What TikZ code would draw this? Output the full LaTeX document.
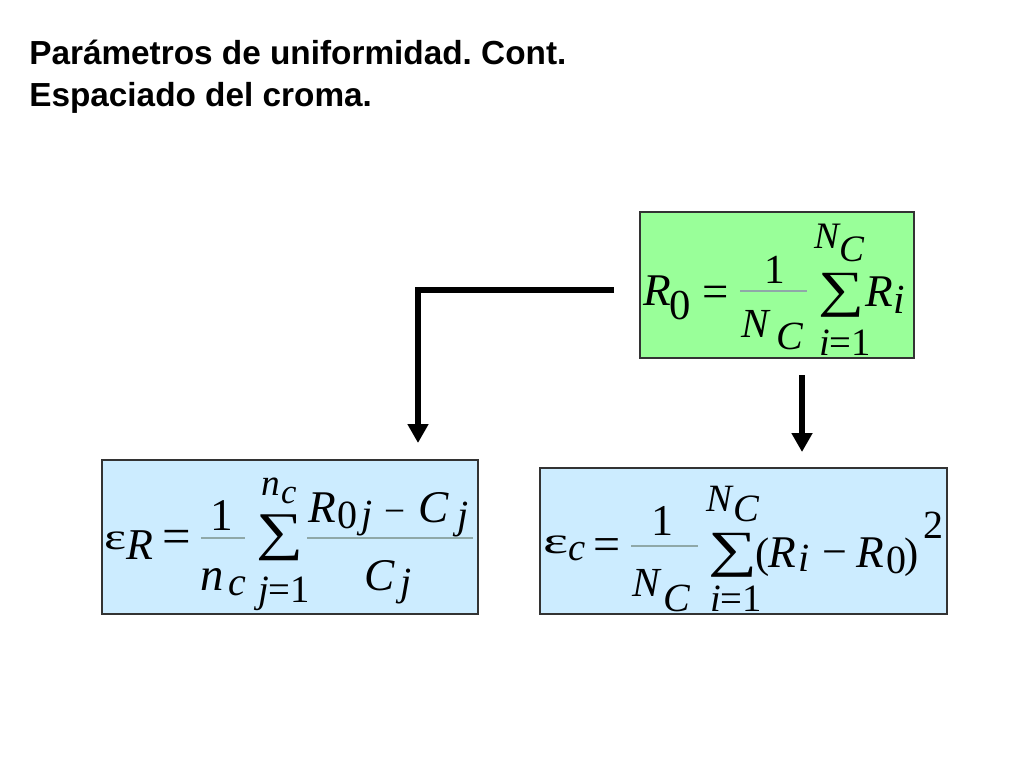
\documentclass[tikz,border=0pt]{standalone}
\usepackage{fontspec}
\usepackage{graphicx}
\setmainfont{Liberation Serif}
\newfontfamily\titlefont{Liberation Sans}
\usetikzlibrary{arrows.meta,calc}
\definecolor{greenfill}{HTML}{99FF99}
\definecolor{bluefill}{HTML}{CCECFF}
\definecolor{boxline}{HTML}{333333}
\definecolor{barcol}{HTML}{8FA8A8}
\newlength\pxu
\setlength\pxu{0.75pt}
\frenchspacing
% glyph macro: name, anchor, x, y, size(pt), text
\newcommand\gl[6]{\node[anchor=#2,inner sep=0pt,outer sep=0pt] (#1) at (#3,#4) {\fontsize{#5}{#5}\selectfont #6};}
\newcommand\sumsym[2]{\resizebox*{#1\pxu}{#2\pxu}{\fontsize{40pt}{40pt}\selectfont ∑}}
\newcommand\epssym[2]{\resizebox*{#1\pxu}{#2\pxu}{\fontsize{40pt}{40pt}\selectfont ε}}
\begin{document}
\begin{tikzpicture}[x=0.75pt,y=-0.75pt,
  box/.style={draw=boxline,line width=1.1pt,inner sep=0pt,outer sep=0pt},
  fbar/.style={draw=barcol,line width=0.8pt},
  conn/.style={line width=4.8pt,-{Triangle[length=14.25pt,width=15pt]}}]
\useasboundingbox (0,0) rectangle (1024,768);
\fill[white] (0,0) rectangle (1024,768);
% title
\node[anchor=base west,inner sep=0pt,font=\titlefont\bfseries\fontsize{25pt}{25pt}\selectfont] (t1) at (29,64) {Parámetros de uniformidad. Cont.};
\node[anchor=base west,inner sep=0pt,font=\titlefont\bfseries\fontsize{25pt}{25pt}\selectfont] (t2) at (29,106) {Espaciado del croma.};
% boxes
\node[box,fill=greenfill,minimum width=274*0.75pt,minimum height=146*0.75pt] (g) at (777,285) {};
\node[box,fill=bluefill,minimum width=376*0.75pt,minimum height=154*0.75pt] (bl) at (290,537) {};
\node[box,fill=bluefill,minimum width=407*0.75pt,minimum height=146*0.75pt] (br) at (743.5,541) {};
% ---- green formula
\gl{gR}{base west}{643}{305}{34pt}{\itshape R}
\gl{g0}{base west}{669}{319}{32pt}{0}
\gl{geq}{base west}{702}{307}{35pt}{=}
\draw[fbar] (740,291) -- (807,291);
\gl{g1}{base}{775}{283}{31pt}{1}
\gl{gN}{base west}{741}{337}{31pt}{\itshape N}
\gl{gC}{base west}{776}{349}{30pt}{\itshape C}
\gl{gS}{north west}{818}{273}{10pt}{\sumsym{46}{44}}
\gl{gNt}{base west}{814}{248}{28pt}{\itshape N}
\gl{gCt}{base west}{839}{261}{28pt}{\itshape C}
\gl{gi1}{base west}{819}{355}{29pt}{\itshape i\upshape =1}
\gl{gRi}{base west}{865}{306}{34pt}{\itshape R}
\gl{gi}{base west}{893}{313}{31pt}{\itshape i}
% ---- left blue formula
\gl{le}{south west}{104}{550}{10pt}{\epssym{22}{18}}
\gl{lR}{base west}{126}{559}{33pt}{\itshape R}
\gl{leq}{base west}{162}{553}{38pt}{=}
\draw[fbar] (201,538) -- (245,538);
\gl{l1}{base}{222}{530}{34pt}{1}
\gl{ln}{base west}{200}{590}{35pt}{\itshape n}
\gl{lc}{base west}{228}{595}{30pt}{\itshape c}
\gl{lS}{north west}{256}{515}{10pt}{\sumsym{47}{46}}
\gl{lnt}{base west}{261}{495}{28pt}{\itshape n}
\gl{lct}{base west}{281}{503}{26pt}{\itshape c}
\gl{lj1}{base west}{258}{602}{29pt}{\itshape j\upshape =1}
\draw[fbar] (307,538) -- (473,538);
\gl{lR0}{base west}{308}{522}{34pt}{\itshape R}
\gl{l0}{base west}{337}{528}{30pt}{0}
\gl{lj}{base west}{361}{527}{30pt}{\itshape j}
\gl{lm}{base west}{384}{523}{28pt}{−}
\gl{lC}{base west}{418}{522}{34pt}{\itshape C}
\gl{lj2}{base west}{457}{528}{30pt}{\itshape j}
\gl{lCd}{base west}{364}{590}{34pt}{\itshape C}
\gl{ljd}{base west}{400}{595}{30pt}{\itshape j}
% ---- right blue formula
\gl{re}{south west}{543}{554}{10pt}{\epssym{25}{18}}
\gl{rc}{base west}{568}{560}{29pt}{\itshape c}
\gl{req}{base west}{593}{560}{36pt}{=}
\draw[fbar] (631,546) -- (698,546);
\gl{r1}{base}{662}{535}{33pt}{1}
\gl{rN}{base west}{632}{596}{31pt}{\itshape N}
\gl{rC}{base west}{663}{611}{30pt}{\itshape C}
\gl{rNt}{base west}{706}{511}{29pt}{\itshape N}
\gl{rCt}{base west}{733}{521}{29pt}{\itshape C}
\gl{rS}{north west}{708}{533}{10pt}{\sumsym{49}{44}}
\gl{ri1}{base west}{710}{611}{29pt}{\itshape i\upshape =1}
\gl{rp1}{base west}{755}{567}{32pt}{(}
\gl{rR}{base west}{768}{567}{34pt}{\itshape R}
\gl{ri}{base west}{798}{571}{30pt}{\itshape i}
\gl{rm}{base west}{822}{566}{33pt}{−}
\gl{rR2}{base west}{856}{567}{34pt}{\itshape R}
\gl{r0}{base west}{886}{573}{30pt}{0}
\gl{rp2}{base west}{904}{567}{32pt}{)}
\gl{r2}{base west}{923}{538}{30pt}{2}
% ---- connectors
\coordinate (ls) at ($(g.west)+(-26,5)$);
\coordinate (lt) at ($(bl.north)+(128,-17)$);
\coordinate (rs) at ($(g.south)+(25,17)$);
\coordinate (rt) at ($(br.north)+(58.5,-16)$);
\draw[conn] (ls) -| (lt);
\draw[conn] (rs) -- (rt);
\end{tikzpicture}
\end{document}
